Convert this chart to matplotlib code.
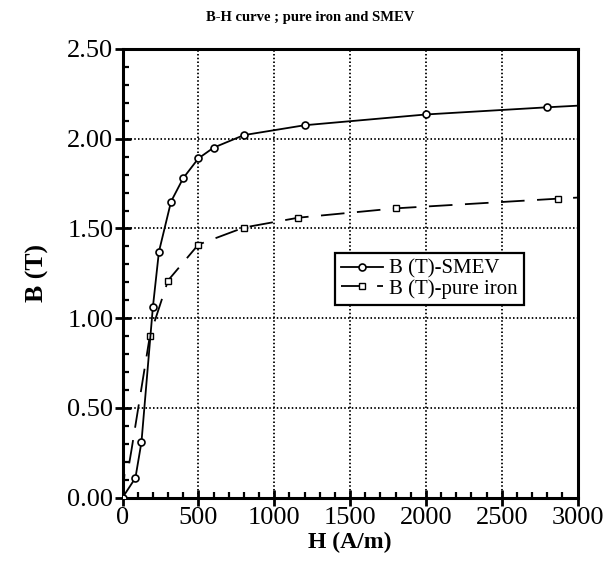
import matplotlib
matplotlib.use("Agg")
import matplotlib.pyplot as plt
from matplotlib.ticker import MultipleLocator, FormatStrFormatter

plt.rcParams['font.family'] = ['Liberation Serif', 'DejaVu Serif']
plt.rcParams['lines.scale_dashes'] = False

# ---- data ----
smev_H = [0, 85, 125, 200, 240, 320, 400, 500, 600, 800, 1200, 2000, 2800, 3000]
smev_B = [0.0, 0.11, 0.31, 1.06, 1.37, 1.65, 1.78, 1.89, 1.95, 2.02, 2.075, 2.135, 2.175, 2.184]
smev_marked = list(range(13))

iron_H = [0, 15, 40, 60, 180, 300, 500, 800, 1160, 1800, 2870, 3000]
iron_B = [0.0, 0.15, 0.17, 0.27, 0.90, 1.21, 1.41, 1.505, 1.56, 1.612, 1.666, 1.672]
iron_marked = [4, 5, 6, 7, 8, 9, 10]

x_ticks = [0, 500, 1000, 1500, 2000, 2500, 3000]
y_ticks = [0.0, 0.5, 1.0, 1.5, 2.0, 2.5]

title = "B-H curve ; pure iron and SMEV"
xlabel = "H (A/m)"
ylabel = "B (T)"
label_smev = "B (T)-SMEV"
label_iron = "B (T)-pure iron"

# ---- figure ----
fig = plt.figure(figsize=(6.15, 5.68), dpi=100)
ax = fig.add_axes([0.1992, 0.1238, 0.7400, 0.7900])

ax.plot(smev_H, smev_B, color='black', lw=1.3, marker='o', markersize=5,
        markerfacecolor='white', markeredgecolor='black', markeredgewidth=1.2,
        markevery=smev_marked, label=label_smev, zorder=4)
ax.plot(iron_H, iron_B, color='black', lw=1.3, dashes=(17, 9), marker='s',
        markersize=4, markerfacecolor='white', markeredgecolor='black',
        markeredgewidth=1.0, markevery=iron_marked, label=label_iron, zorder=3)

ax.set_xlim(0, 3000)
ax.set_ylim(0, 2.5)
ax.set_xticks(x_ticks)
ax.set_yticks(y_ticks)
ax.xaxis.set_minor_locator(MultipleLocator(100))
ax.yaxis.set_minor_locator(MultipleLocator(0.1))
ax.yaxis.set_major_formatter(FormatStrFormatter('%.2f'))
ax.xaxis.set_major_formatter(FormatStrFormatter('%d'))

ax.grid(True, which='major', linestyle=(0, (1.1, 1.6)), color='black', lw=1.3)
ax.set_axisbelow(True)

for s in ax.spines.values():
    s.set_linewidth(2.2)

ax.tick_params(which='major', direction='inout', length=11, width=2,
               labelsize=19, pad=1)
ax.tick_params(which='minor', direction='in', length=4, width=1.6)
ax.tick_params(axis='x', which='major', pad=1)

ax.set_xlabel(xlabel, fontsize=17, fontweight='bold', labelpad=2)
ax.set_ylabel(ylabel, fontsize=18.5, fontweight='bold', labelpad=13)

fig.text(0.504, 1 - 17 / 568, title, ha='center', va='center', fontsize=10.5,
         fontweight='bold')

leg = ax.legend(loc='upper left', bbox_to_anchor=(0.467, 0.545), borderaxespad=0,
                fontsize=15, handlelength=2.0, handletextpad=0.3,
                labelspacing=0.0, borderpad=0.3, fancybox=False, framealpha=1,
                edgecolor='black')
leg.get_frame().set_linewidth(1.6)

fig.savefig("out.png", dpi=100)
